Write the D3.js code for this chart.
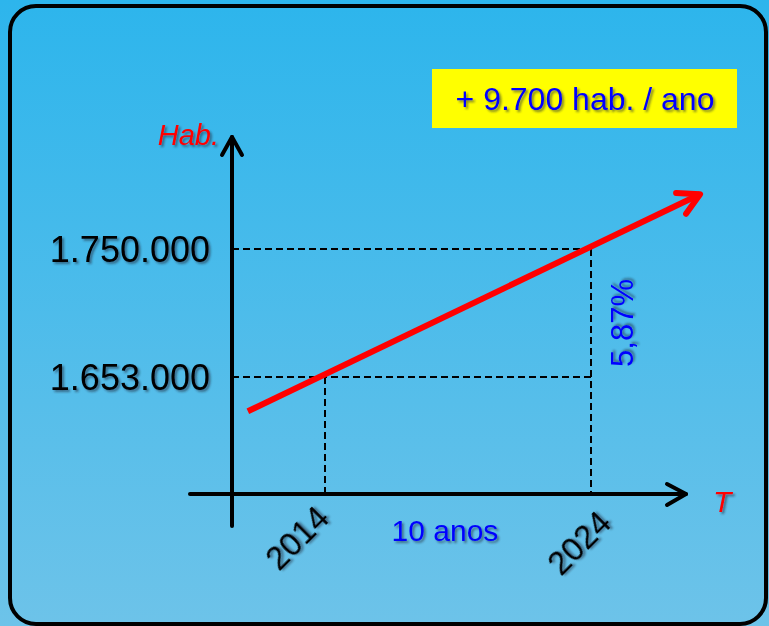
<!DOCTYPE html>
<html>
<head>
<meta charset="utf-8">
<script src="https://cdn.jsdelivr.net/npm/d3@7"></script>
<style>
  html, body { margin: 0; padding: 0; background: #fff; }
  svg { display: block; font-family: Arial, "Liberation Sans", sans-serif; }
</style>
</head>
<body>
<svg id="chart" width="769" height="626"></svg>
<script>
// data
var years = [2014, 2024];
var habLevels = [1653000, 1750000];
// red trend line (start / end)
var trendYears = [2011.1, 2028.1];
var trendHab = [1627000, 1791500];
var rateLabel = "+ 9.700 hab. / ano";
var spanLabel = "10 anos";
var pctLabel = "5,87%";

var W = 769, H = 626;
var svg = d3.select("#chart");

var defs = svg.append("defs");
var grad = defs.append("linearGradient").attr("id", "bg")
    .attr("x1", 0).attr("y1", 0).attr("x2", 0).attr("y2", 1);
grad.append("stop").attr("offset", "0%").attr("stop-color", "#2db5ec");
grad.append("stop").attr("offset", "100%").attr("stop-color", "#6dc3e9");

var shadow = defs.append("filter").attr("id", "shadow")
    .attr("x", "-20%").attr("y", "-20%").attr("width", "140%").attr("height", "140%");
shadow.append("feDropShadow").attr("dx", 2).attr("dy", 2)
    .attr("stdDeviation", 1).attr("flood-color", "#1a2a3a").attr("flood-opacity", 0.55);

// background + frame
svg.append("rect").attr("width", W).attr("height", H).attr("fill", "url(#bg)");
svg.append("rect")
    .attr("x", 10).attr("y", 6).attr("width", 756).attr("height", 618)
    .attr("rx", 26).attr("ry", 26)
    .attr("fill", "none").attr("stroke", "#000").attr("stroke-width", 4);

// scales
var x = d3.scaleLinear().domain(years).range([325, 591]);
var y = d3.scaleLinear().domain(habLevels).range([377, 249]);

var axisX = 232, axisY = 494;
var ptFmt = d3.formatLocale({ decimal: ",", thousands: ".", grouping: [3], currency: ["", ""] }).format(",d");

// dashed guides
var dash = svg.append("g").attr("stroke", "#000").attr("stroke-width", 2)
    .attr("stroke-dasharray", "7,4").attr("fill", "none");
habLevels.forEach(function (v) {
    dash.append("line")
        .attr("x1", axisX).attr("x2", x(years[1]))
        .attr("y1", y(v)).attr("y2", y(v));
});
years.forEach(function (yr, i) {
    dash.append("line")
        .attr("x1", x(yr)).attr("x2", x(yr))
        .attr("y1", y(habLevels[i])).attr("y2", axisY);
});

// axes lines with open arrowheads
var axes = svg.append("g").attr("stroke", "#000").attr("stroke-width", 4)
    .attr("fill", "none").attr("stroke-linecap", "round").attr("stroke-linejoin", "round");
axes.append("line").attr("x1", axisX).attr("x2", axisX).attr("y1", 526).attr("y2", 137);
axes.append("path").attr("d", "M" + (axisX - 10) + ",155 L" + axisX + ",137 L" + (axisX + 10) + ",155");
axes.append("line").attr("x1", 190).attr("x2", 686).attr("y1", axisY).attr("y2", axisY);
axes.append("path").attr("d", "M667,484 L686," + axisY + " L667,505");

// y axis labels via d3 axis
var yAxis = svg.append("g")
    .attr("transform", "translate(" + axisX + ",0)")
    .call(d3.axisLeft(y).tickValues(habLevels).tickSize(0).tickPadding(22).tickFormat(ptFmt));
yAxis.select(".domain").remove();
yAxis.selectAll("text")
    .attr("font-size", 36).attr("fill", "#000")
    .attr("font-family", "Arial, 'Liberation Sans', sans-serif")
    .attr("dy", "0.36em")
    .attr("filter", "url(#shadow)");

// x labels rotated
var xOffsets = [[6, 26], [22, 31]];
svg.append("g").selectAll("text").data(years).enter().append("text")
    .attr("transform", function (d, i) {
        return "translate(" + (x(d) + xOffsets[i][0]) + "," + (axisY + xOffsets[i][1]) + ") rotate(-45)";
    })
    .attr("text-anchor", "end")
    .attr("font-size", 33).attr("fill", "#000")
    .attr("filter", "url(#shadow)")
    .text(function (d) { return d; });

// red trend line
var trend = trendYears.map(function (t, i) { return [x(t), y(trendHab[i])]; });
svg.append("path")
    .attr("d", d3.line()(trend))
    .attr("stroke", "#ff0000").attr("stroke-width", 6).attr("fill", "none");
var tip = trend[1];
var ang = Math.atan2(tip[1] - trend[0][1], tip[0] - trend[0][0]);
var headLen = 24, spread = 0.5;
var hp = [
    [tip[0] - headLen * Math.cos(ang - spread), tip[1] - headLen * Math.sin(ang - spread)],
    tip,
    [tip[0] - headLen * Math.cos(ang + spread), tip[1] - headLen * Math.sin(ang + spread)]
];
svg.append("path")
    .attr("d", d3.line()(hp))
    .attr("stroke", "#ff0000").attr("stroke-width", 6).attr("fill", "none")
    .attr("stroke-linecap", "round").attr("stroke-linejoin", "round");

// axis titles
svg.append("text").attr("x", 219).attr("y", 145).attr("text-anchor", "end")
    .attr("font-size", 29).attr("font-style", "italic").attr("fill", "#ff0000")
    .attr("filter", "url(#shadow)").text("Hab.");
svg.append("text").attr("x", 713).attr("y", 512)
    .attr("font-size", 30).attr("font-style", "italic").attr("fill", "#ff0000")
    .attr("filter", "url(#shadow)").text("T");

// annotations
svg.append("text").attr("x", (x(years[0]) + x(years[1])) / 2 - 13).attr("y", 541)
    .attr("text-anchor", "middle").attr("font-size", 30).attr("fill", "#0000ff")
    .attr("filter", "url(#shadow)").text(spanLabel);

svg.append("text")
    .attr("transform", "translate(" + (x(years[1]) + 42) + "," + ((y(habLevels[0]) + y(habLevels[1])) / 2 + 10) + ") rotate(-90)")
    .attr("text-anchor", "middle").attr("font-size", 31).attr("fill", "#0000ff")
    .attr("filter", "url(#shadow)").text(pctLabel);

// yellow rate box
svg.append("rect").attr("x", 432).attr("y", 69).attr("width", 305).attr("height", 59)
    .attr("fill", "#ffff00");
svg.append("text").attr("x", 585).attr("y", 110).attr("text-anchor", "middle")
    .attr("font-size", 32).attr("fill", "#0000ff")
    .attr("filter", "url(#shadow)").text(rateLabel);
</script>
</body>
</html>
